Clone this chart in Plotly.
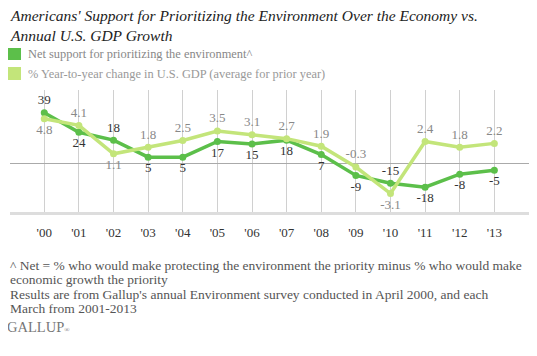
import plotly.graph_objects as go

years = ["'00", "'01", "'02", "'03", "'04", "'05", "'06", "'07", "'08", "'09", "'10", "'11", "'12", "'13"]
net_support = [39, 24, 18, 5, 5, 17, 15, 18, 7, -9, -15, -18, -8, -5]
gdp_change = [4.8, 4.1, 1.1, 1.8, 2.5, 3.5, 3.1, 2.7, 1.9, -0.3, -3.1, 2.4, 1.8, 2.2]

net_pos = ["top center", "bottom center", "top center", "bottom center", "bottom center",
           "bottom center", "bottom center", "bottom center", "bottom center", "bottom center",
           "top center", "bottom center", "bottom center", "bottom center"]
gdp_pos = ["bottom center", "top center", "bottom center", "top center", "top center",
           "top center", "top center", "top center", "top center", "top center",
           "bottom center", "top center", "top center", "top center"]

DARK = "#5CBF4A"
LIGHT = "#C3E57A"
SERIF = "Liberation Serif"

# page has default 8px body margin: figure is drawn at (8, 8)
OFF = 8
W, H = 537 - OFF, 356 - OFF
L, R, T, B = 10 - OFF, 530 - OFF, 90 - OFF, 212 - OFF

def px(x):
    return (x - OFF - L) / (R - L)

def py(y):
    return (B - (y - OFF)) / (B - T)

fig = go.Figure()
fig.add_trace(go.Scatter(
    x=years, y=net_support, mode="lines+markers+text",
    line=dict(color=DARK, width=3.5), marker=dict(color=DARK, size=7),
    text=[str(v) for v in net_support], textposition=net_pos,
    textfont=dict(family=SERIF, size=13, color="#333333"),
    cliponaxis=False, showlegend=False, yaxis="y"))
fig.add_trace(go.Scatter(
    x=years, y=gdp_change, mode="lines+markers+text",
    line=dict(color=LIGHT, width=3.5), marker=dict(color=LIGHT, size=7),
    text=[str(v) for v in gdp_change], textposition=gdp_pos,
    textfont=dict(family=SERIF, size=13, color="#888888"),
    cliponaxis=False, showlegend=False, yaxis="y2"))

annotations = []
def txt(x, y, s, size, color, italic=False):
    annotations.append(dict(
        x=px(x), y=py(y), xref="paper", yref="paper", text=s, showarrow=False,
        xanchor="left", yanchor="middle",
        font=dict(family=SERIF, size=size, color=color, style="italic" if italic else "normal")))

txt(8, 15, "Americans' Support for Prioritizing the Environment Over the Economy vs.", 15.5, "#222222", True)
txt(8, 36, "Annual U.S. GDP Growth", 15.5, "#222222", True)
txt(26, 54, "Net support for prioritizing the environment^", 12.4, "#888888")
txt(26, 74, "% Year-to-year change in U.S. GDP (average for prior year)", 12.4, "#999999")
txt(8, 265, "^ Net = % who would make protecting the environment the priority minus % who would make", 13.5, "#555555")
txt(8, 279.5, "economic growth the priority", 13.5, "#555555")
txt(8, 294, "Results are from Gallup's annual Environment survey conducted in April 2000, and each", 13.5, "#555555")
txt(8, 308.5, "March from 2001-2013", 13.5, "#555555")
txt(5, 327, "GALLUP<span style='font-size:7px'>®</span>", 14.5, "#777777")

shapes = [
    dict(type="rect", xref="paper", yref="paper", x0=px(7), x1=px(21), y0=py(48), y1=py(60),
         fillcolor=DARK, line=dict(width=0)),
    dict(type="rect", xref="paper", yref="paper", x0=px(7), x1=px(21), y0=py(67), y1=py(80),
         fillcolor=LIGHT, line=dict(width=0)),
]

fig.update_layout(
    width=W, height=H,
    margin=dict(l=L, r=W - R, t=T, b=H - B),
    paper_bgcolor="white", plot_bgcolor="white",
    annotations=annotations, shapes=shapes,
    xaxis=dict(type="category", range=[-0.99, 14.03], showgrid=True, gridcolor="#d0d0d0",
               gridwidth=1, showline=True, linecolor="#dddddd", linewidth=3,
               ticks="", ticklabelstandoff=6, tickfont=dict(family=SERIF, size=13, color="#333333"),
               zeroline=False, fixedrange=True),
    yaxis=dict(range=[-36.9, 56.3], showgrid=False, zeroline=True, zerolinecolor="#aaaaaa",
               zerolinewidth=1, showticklabels=False, ticks=""),
    yaxis2=dict(range=[-5.05, 7.84], overlaying="y", showgrid=False, zeroline=False,
                showticklabels=False, ticks=""),
)

fig.write_html("out.html")
